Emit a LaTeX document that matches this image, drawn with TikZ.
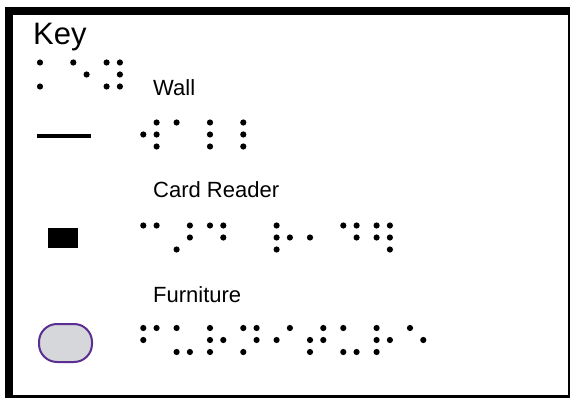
\documentclass[tikz,border=0pt]{standalone}
\usepackage{fontspec}
\setmainfont{Liberation Sans}
\definecolor{ovalfill}{HTML}{D6D7DA}
\definecolor{ovaldraw}{HTML}{5B2E91}
\newcommand\brcell[3]{\foreach \d in {#3}{%
  \pgfmathsetmacro\cx{#1+13.3*int((\d-1)/3)}%
  \pgfmathsetmacro\cy{#2+12*mod(\d-1,3)}%
  \fill (\cx,\cy) circle (3.1pt);}}
\begin{document}
\begin{tikzpicture}[x=1pt,y=-1pt,
  label/.style={anchor=base west,inner sep=0pt,font=\fontsize{22}{26}\selectfont},
  title/.style={anchor=base west,inner sep=0pt,font=\fontsize{31}{36}\selectfont}]
\useasboundingbox (0,0) rectangle (570,398);
\clip (0,0) rectangle (570,398);
\fill[white] (0,0) rectangle (570,398);
\draw[line width=8pt] (9,11) rectangle (572,398.5);
\node[title] (key) at (33,45) {Key};
% Key braille
\brcell{40}{62.5}{1,3}
\brcell{73.3}{62.5}{1,5}
\brcell{106.6}{62.5}{1,3,4,5,6}
% Wall
\node[label] (wall) at (153,96) {Wall};
\draw[line width=3.5pt] (36.7,136) -- (90.7,136);
\brcell{143.3}{122.5}{2,4,5,6}
\brcell{176.6}{122.5}{1}
\brcell{210}{122.5}{1,2,3}
\brcell{243.3}{122.5}{1,2,3}
% Card Reader
\node[label] (card) at (153,197) {Card Reader};
\fill (48,227.5) rectangle (78,247.5);
\brcell{143.3}{225.5}{1,4}
\brcell{176.6}{225.5}{3,4,5}
\brcell{210}{225.5}{1,4,5}
\brcell{276.6}{225.5}{1,2,3,5}
\brcell{310}{225.5}{2}
\brcell{343.3}{225.5}{1,4,5}
\brcell{376.6}{225.5}{1,2,4,5,6}
% Furniture
\node[label] (furn) at (153,302) {Furniture};
\draw[line width=2pt,draw=ovaldraw,fill=ovalfill,rounded corners=18pt] (39,324) rectangle (92,362);
\brcell{143.3}{328}{1,2,4}
\brcell{176.6}{328}{1,3,6}
\brcell{210}{328}{1,2,3,5}
\brcell{243.3}{328}{1,3,4,5}
\brcell{276.6}{328}{2,4}
\brcell{310}{328}{2,3,4,5}
\brcell{343.3}{328}{1,3,6}
\brcell{376.6}{328}{1,2,3,5}
\brcell{410}{328}{1,5}
\end{tikzpicture}
\end{document}
